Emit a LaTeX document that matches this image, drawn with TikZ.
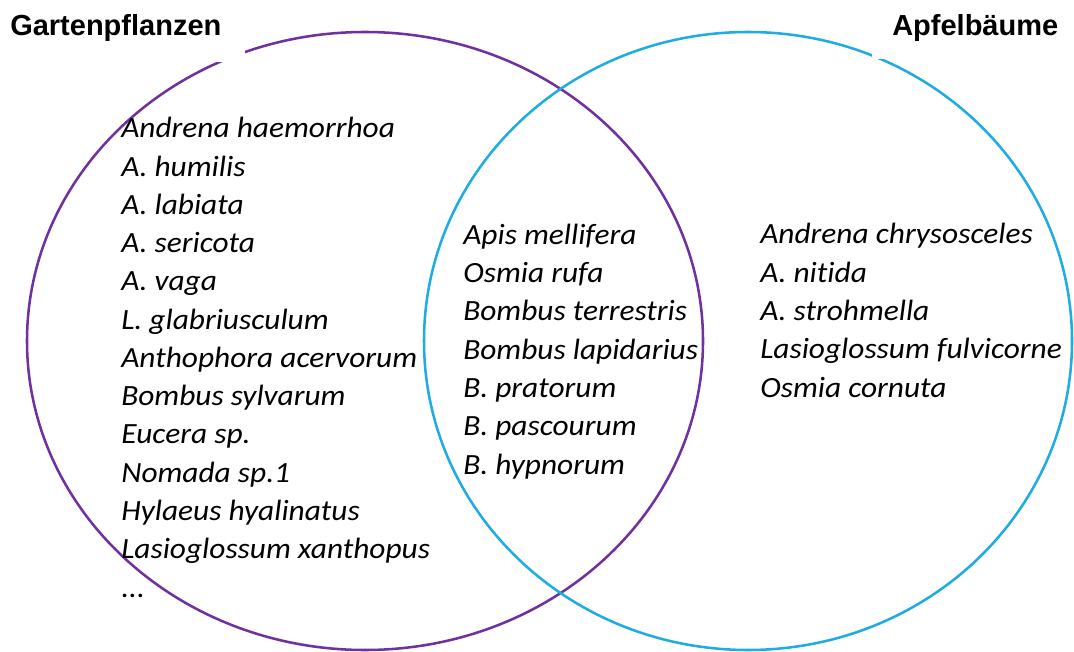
\documentclass[tikz,border=0pt]{standalone}
\usepackage{fontspec}
\setmainfont{Liberation Sans}
\newfontfamily\beefont[FakeStretch=1.07,Ligatures=NoCommon]{Carlito}
\definecolor{gardenpurple}{RGB}{112,48,160}
\definecolor{applecyan}{RGB}{30,172,226}
\tikzset{
  ring/.style={line width=1.9pt},
  label/.style={font=\bfseries\fontsize{21.75}{26}\selectfont,anchor=base west,inner sep=0pt},
  beelist/.style={font=\beefont\itshape\fontsize{22}{28.7}\selectfont,align=left,anchor=base west,inner sep=0pt}
}
\begin{document}
\begin{tikzpicture}[x=0.75pt,y=-0.75pt]
                \useasboundingbox (0,0) rectangle (1074,652);
                %% circles
                \draw[ring,gardenpurple] (365,341) ellipse [x radius=338,y radius=309];
                \draw[ring,applecyan] (748,341) ellipse [x radius=324,y radius=309];
                %% label boxes
                \fill[white] (0,0) rectangle (245,62);
                \fill[white] (872,0) rectangle (1074,59);
                %% labels
                \node[label] (garten) at (10,36) {Gartenpflanzen};
                \node[label] (apfel) at (892,36) {Apfelbäume};
                %% bees (anchored at the last line)
                \node[beelist] (gartenbees) at (121,597) {Andrena haemorrhoa\\A. humilis\\A. labiata\\A. sericota\\A. vaga\\L. glabriusculum\\Anthophora acervorum\\Bombus sylvarum\\Eucera sp.\\Nomada sp.1\\Hylaeus hyalinatus\\Lasioglossum xanthopus\\...};
                \node[beelist] (bothbees) at (463,474) {Apis mellifera\\Osmia rufa\\Bombus terrestris\\Bombus lapidarius\\B. pratorum\\B. pascourum\\B. hypnorum};
                \node[beelist] (apfelbees) at (760,397) {Andrena chrysosceles\\A. nitida\\A. strohmella\\Lasioglossum fulvicorne\\Osmia cornuta};
            \end{tikzpicture}
\end{document}
